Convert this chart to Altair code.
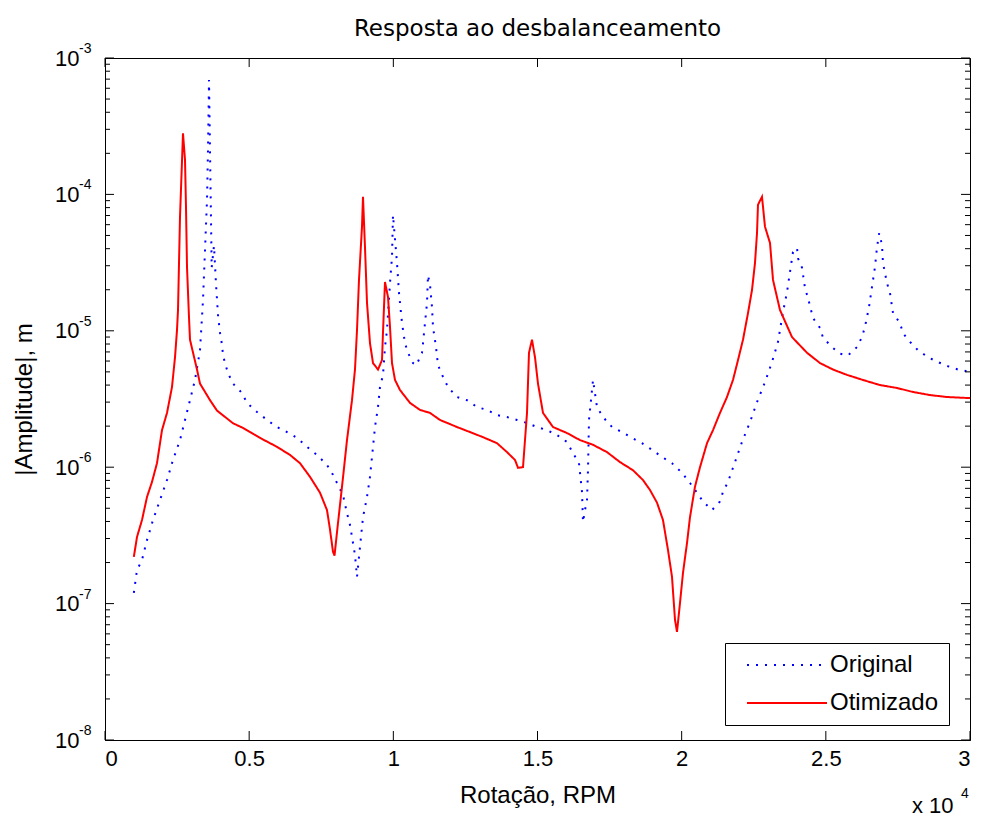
import altair as alt
import pandas as pd

# ---- data ----
rpm_original = [1000, 1110, 1283, 1457, 1665, 1908, 2150, 2358, 2601, 2775, 2948, 3121, 3295, 3399, 3468,
                3538, 3572, 3607, 3700, 3780, 3850, 3920, 3990, 4058, 4092, 4162, 4266, 4439, 4751, 4925,
                5272, 5618, 5965, 6312, 6659, 7006, 7353, 7699, 7907, 8081, 8254, 8393, 8497, 8601, 8670,
                8740, 8844, 8948, 9087, 9191, 9260, 9364, 9468, 9538, 9642, 9711, 9780, 9884, 9954, 9988,
                10127, 10197, 10301, 10405, 10509, 10682, 10800, 10994, 11029, 11098, 11168, 11202, 11272,
                11341, 11376, 11480, 11549, 11722, 11896, 12208, 12555, 12902, 13249, 13595, 13942, 14289,
                14636, 14983, 15329, 15676, 16023, 16231, 16439, 16474, 16543, 16578, 16647, 16717, 16751,
                16786, 16890, 16925, 17064, 17272, 17584, 17931, 18278, 18624, 18971, 19318, 19665, 20011,
                20289, 20532, 20740, 21052, 21329, 21433, 21607, 21850, 22092, 22370, 22613, 22890, 23133,
                23341, 23514, 23653, 23757, 23861, 24000, 24035, 24174, 24277, 24381, 24555, 24798, 24902,
                25214, 25491, 25769, 26081, 26254, 26358, 26497, 26601, 26705, 26775, 26850, 26948, 26982,
                27121, 27225, 27329, 27572, 27676, 27919, 28196, 28543, 28890, 29237, 29584, 30000]
amp_original = [1.2e-7, 1.76e-7, 2.09e-7, 2.92e-7, 4.1e-7, 5.75e-7, 8.05e-7, 1.13e-6, 1.58e-6, 2.22e-6,
                3.1e-6, 4.36e-6, 7.2e-6, 1.68e-5, 3.9e-5, 9.1e-5, 2.12e-4, 6.9e-4, 2.9e-5, 4.2e-5, 2.2e-5,
                1.3e-5, 9.6e-6, 7.9e-6, 6.65e-6, 5.8e-6, 4.9e-6, 4.1e-6, 3.5e-6, 2.96e-6, 2.54e-6, 2.22e-6,
                1.97e-6, 1.81e-6, 1.64e-6, 1.41e-6, 1.23e-6, 1.04e-6, 8.8e-7, 7.4e-7, 6.25e-7, 4.6e-7,
                3.77e-7, 2.78e-7, 2.27e-7, 1.57e-7, 2.6e-7, 4.3e-7, 6.05e-7, 8.5e-7, 1.19e-6, 1.97e-6,
                2.76e-6, 3.87e-6, 4.75e-6, 7.6e-6, 1.01e-5, 2.24e-5, 3.48e-5, 7.06e-5, 3.14e-5, 1.89e-5,
                1.14e-5, 8.1e-6, 6.9e-6, 5.8e-6, 5.6e-6, 6.9e-6, 8.1e-6, 1.14e-5, 1.6e-5, 2.56e-5, 2.17e-5,
                1.49e-5, 1.07e-5, 7.6e-6, 5.6e-6, 4.6e-6, 3.87e-6, 3.27e-6, 3.1e-6, 2.76e-6, 2.63e-6,
                2.41e-6, 2.33e-6, 2.22e-6, 2.11e-6, 1.97e-6, 1.87e-6, 1.72e-6, 1.53e-6, 1.27e-6, 1.07e-6,
                9.1e-7, 6.6e-7, 3.96e-7, 4.85e-7, 5.75e-7, 9.5e-7, 2.22e-6, 3.68e-6, 4.36e-6, 2.76e-6,
                2.33e-6, 1.97e-6, 1.81e-6, 1.64e-6, 1.5e-6, 1.34e-6, 1.19e-6, 1.07e-6, 9.1e-7, 7.66e-7,
                6.5e-7, 5.6e-7, 4.85e-7, 5.6e-7, 6.6e-7, 7.8e-7, 1.09e-6, 1.53e-6, 2.14e-6, 3.0e-6, 4.2e-6,
                5.9e-6, 8.3e-6, 1.37e-5, 1.92e-5, 2.7e-5, 3.78e-5, 4.05e-5, 3.4e-5, 2.9e-5, 2.06e-5,
                1.74e-5, 1.24e-5, 1.05e-5, 8.9e-6, 7.6e-6, 6.8e-6, 6.6e-6, 7.6e-6, 9.0e-6, 1.07e-5,
                1.49e-5, 2.1e-5, 2.94e-5, 4.1e-5, 5.2e-5, 4.26e-5, 3.14e-5, 2.24e-5, 1.89e-5, 1.35e-5,
                1.14e-5, 9.6e-6, 8.3e-6, 7.2e-6, 6.4e-6, 5.9e-6, 5.5e-6, 5.2e-6, 5.0e-6]

rpm_otimizado = [1000, 1110, 1283, 1457, 1630, 1803, 1977, 2150, 2324, 2428, 2497, 2532, 2601, 2705, 2775,
                 2809, 2844, 2913, 2948, 3191, 3295, 3642, 3884, 4439, 4786, 5376, 5965, 6416, 6763, 7110,
                 7457, 7699, 7803, 7907, 7960, 8081, 8220, 8393, 8566, 8670, 8740, 8809, 8913, 8948, 9017,
                 9087, 9191, 9295, 9468, 9607, 9642, 9711, 9815, 9884, 9954, 10058, 10231, 10578, 10925,
                 11272, 11618, 12208, 12659, 13110, 13595, 13942, 14220, 14324, 14497, 14636, 14705, 14809,
                 14913, 15017, 15191, 15537, 16023, 16474, 16925, 17410, 17861, 18312, 18659, 18902, 19144,
                 19352, 19526, 19665, 19769, 19838, 19942, 20046, 20185, 20289, 20462, 20636, 20879, 21087,
                 21329, 21572, 21780, 21954, 22127, 22301, 22439, 22543, 22613, 22647, 22786, 22890, 23064,
                 23168, 23410, 23826, 24347, 24798, 25248, 25734, 26289, 26878, 27468, 28023, 28613, 29202,
                 30000]
amp_otimizado = [2.2e-7, 3.08e-7, 4.1e-7, 6.05e-7, 7.8e-7, 1.07e-6, 1.87e-6, 2.5e-6, 3.87e-6, 6.4e-6,
                 1.01e-5, 1.42e-5, 6.8e-5, 2.8e-4, 1.79e-4, 8.1e-5, 2.94e-5, 1.26e-5, 8.6e-6, 5.2e-6,
                 4.1e-6, 3.1e-6, 2.6e-6, 2.1e-6, 1.94e-6, 1.64e-6, 1.41e-6, 1.23e-6, 1.07e-6, 8.5e-7,
                 6.5e-7, 4.85e-7, 3.5e-7, 2.4e-7, 2.25e-7, 3.9e-7, 7.2e-7, 1.58e-6, 3.1e-6, 5.2e-6,
                 1.01e-5, 2.36e-5, 5.8e-5, 9.6e-5, 4.1e-5, 1.6e-5, 8.1e-6, 5.8e-6, 5.2e-6, 6.1e-6, 9.8e-6,
                 2.28e-5, 1.77e-5, 1.07e-5, 5.8e-6, 4.36e-6, 3.68e-6, 2.96e-6, 2.63e-6, 2.5e-6, 2.22e-6,
                 1.97e-6, 1.81e-6, 1.66e-6, 1.5e-6, 1.29e-6, 1.13e-6, 9.9e-7, 1.0e-6, 2.5e-6, 6.9e-6,
                 8.6e-6, 6.4e-6, 4.1e-6, 2.5e-6, 1.97e-6, 1.78e-6, 1.58e-6, 1.46e-6, 1.29e-6, 1.09e-6,
                 9.5e-7, 8.05e-7, 6.8e-7, 5.5e-7, 4.1e-7, 2.47e-7, 1.57e-7, 7.6e-8, 6.2e-8, 1.01e-7,
                 1.68e-7, 2.78e-7, 4.3e-7, 7.2e-7, 1.0e-6, 1.5e-6, 1.87e-6, 2.5e-6, 3.27e-6, 4.36e-6,
                 6.1e-6, 8.6e-6, 1.35e-5, 1.99e-5, 3.14e-5, 5.2e-5, 8.4e-5, 9.6e-5, 5.8e-5, 4.4e-5,
                 2.36e-5, 1.42e-5, 9.0e-6, 6.9e-6, 5.8e-6, 5.2e-6, 4.75e-6, 4.36e-6, 4.0e-6, 3.81e-6,
                 3.56e-6, 3.38e-6, 3.27e-6, 3.21e-6]

series_names = ["Original", "Otimizado"]
series_colors = ["#0000ff", "#ff0000"]

x_tick_values = [0, 5000, 10000, 15000, 20000, 25000, 30000]
y_major_values = [1e-8, 1e-7, 1e-6, 1e-5, 1e-4, 1e-3]
y_exponent_labels = ["-8", "-7", "-6", "-5", "-4", "-3"]
y_minor_values = [k * m for m in [1e-8, 1e-7, 1e-6, 1e-5, 1e-4] for k in range(2, 10)]

W, H = 865, 682
LABEL_FONT = "Liberation Sans"

df = pd.concat([
    pd.DataFrame({"rpm": rpm_original, "amp": amp_original, "serie": "Original"}),
    pd.DataFrame({"rpm": rpm_otimizado, "amp": amp_otimizado, "serie": "Otimizado"}),
], ignore_index=True)

x_scale = alt.Scale(domain=[0, 30000], nice=False, zero=False)
y_scale = alt.Scale(type="log", domain=[1e-8, 1e-3], nice=False)

x_enc = alt.X("rpm:Q", scale=x_scale,
              axis=alt.Axis(values=x_tick_values, labelExpr="format(datum.value/10000, '~g')",
                            ticks=False, grid=False, labelPadding=8, title="Rotação, RPM",
                            titlePadding=14, labelFont=LABEL_FONT, labelFontSize=22,
                            titleFont=LABEL_FONT, titleFontSize=24, titleFontWeight="normal",
                            labelColor="black", titleColor="black", domainColor="black"))
y_enc = alt.Y("amp:Q", scale=y_scale,
              axis=alt.Axis(values=y_major_values, labelExpr="'10'", ticks=False, grid=False,
                            labelPadding=26, title="|Amplitude|, m", titlePadding=18,
                            labelFont=LABEL_FONT, labelFontSize=22,
                            titleFont=LABEL_FONT, titleFontSize=24, titleFontWeight="normal",
                            labelColor="black", titleColor="black", domainColor="black"))

legend_cfg = alt.Legend(title=None, orient="none", legendX=620, legendY=585,
                        symbolType="M-4,0H4", symbolSize=400, symbolStrokeWidth=2,
                        symbolFillColor="transparent",
                        labelFontSize=24, labelFont=LABEL_FONT, labelColor="black",
                        strokeColor="black", fillColor="white", padding=10,
                        rowPadding=14, symbolOffset=40, labelOffset=31)

lines = alt.Chart(df).mark_line(strokeWidth=2, strokeCap="butt").encode(
    x=x_enc,
    y=y_enc,
    color=alt.Color("serie:N", scale=alt.Scale(domain=series_names, range=series_colors),
                    legend=legend_cfg),
    strokeDash=alt.StrokeDash("serie:N", scale=alt.Scale(domain=series_names, range=[[2, 7], [1, 0]]),
                              legend=legend_cfg),
    order=alt.Order("serie_order:Q"),
).transform_calculate(serie_order="datum.serie == 'Original' ? 0 : 1")

# inward ticks on all four sides (positions from the scales)
xt = pd.DataFrame({"rpm": x_tick_values})
ymaj = pd.DataFrame({"amp": y_major_values})
ymin = pd.DataFrame({"amp": y_minor_values})
tick_style = dict(color="black", strokeWidth=1)

ticks_bottom = alt.Chart(xt).mark_rule(**tick_style).encode(x=x_enc, y=alt.value(H), y2=alt.value(H - 9))
ticks_top = alt.Chart(xt).mark_rule(**tick_style).encode(x=x_enc, y=alt.value(0), y2=alt.value(9))
ticks_left_major = alt.Chart(ymaj).mark_rule(**tick_style).encode(y=y_enc, x=alt.value(0), x2=alt.value(9))
ticks_right_major = alt.Chart(ymaj).mark_rule(**tick_style).encode(y=y_enc, x=alt.value(W), x2=alt.value(W - 9))
ticks_left_minor = alt.Chart(ymin).mark_rule(**tick_style).encode(y=y_enc, x=alt.value(0), x2=alt.value(5))
ticks_right_minor = alt.Chart(ymin).mark_rule(**tick_style).encode(y=y_enc, x=alt.value(W), x2=alt.value(W - 5))

# superscript exponents of the y labels
exps = alt.Chart(pd.DataFrame({"amp": y_major_values, "e": y_exponent_labels})).mark_text(
    align="left", baseline="alphabetic", fontSize=14, font=LABEL_FONT, color="black", dy=-5
).encode(y=y_enc, x=alt.value(-26), text="e:N")

# "x 10^4" multiplier
mult = alt.Chart(pd.DataFrame({"t": ["x 10"]})).mark_text(
    align="left", baseline="alphabetic", fontSize=22, font=LABEL_FONT, color="black"
).encode(x=alt.value(807), y=alt.value(H + 73), text="t:N")
mult_exp = alt.Chart(pd.DataFrame({"t": ["4"]})).mark_text(
    align="left", baseline="alphabetic", fontSize=14, font=LABEL_FONT, color="black"
).encode(x=alt.value(856), y=alt.value(H + 58), text="t:N")

chart = alt.layer(
    lines, ticks_bottom, ticks_top, ticks_left_major, ticks_right_major,
    ticks_left_minor, ticks_right_minor, exps, mult, mult_exp
).properties(
    width=W, height=H,
    title=alt.TitleParams("Resposta ao desbalanceamento", font="DejaVu Sans", fontSize=23,
                          fontWeight="normal", color="black", anchor="middle", offset=1),
    autosize=alt.AutoSizeParams(type="none"),
    padding={"left": 97, "top": 50, "right": 4, "bottom": 78},
    background="white",
).configure_view(
    stroke="black", strokeWidth=1
)

chart.save("out.html", embed_options={"renderer": "svg", "actions": False})
